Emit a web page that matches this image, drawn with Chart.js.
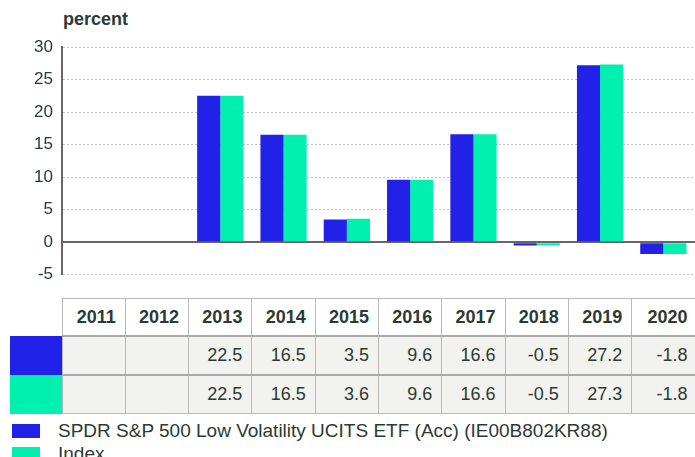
<!DOCTYPE html>
<html>
<head>
<meta charset="utf-8">
<script src="https://cdn.jsdelivr.net/npm/chart.js@4/dist/chart.umd.min.js"></script>
<style>
  html, body { margin: 0; padding: 0; background: #fff; }
  body { font-family: "Liberation Sans", Arial, sans-serif; color: #2b3a33; }
  #wrap { position: relative; width: 695px; height: 457px; overflow: hidden; }
  #unit { position: absolute; left: 63px; top: 9px; font-size: 18px; font-weight: bold; }
  #c { position: absolute; left: 0; top: 0; }
  #tbl { position: absolute; left: 10px; top: 298px; border-collapse: collapse; table-layout: fixed; font-size: 18px; }
  #tbl td, #tbl th { border: 1px solid #b8b8b8; padding: 0 9px 0 0; text-align: right; white-space: nowrap; overflow: hidden; }
  #tbl th { background: #fff; font-weight: bold; height: 36px; }
  #tbl td { background: #f2f2ee; height: 37px; border-top: 2px solid #aaa; }
  #tbl th.blank { border: none; background: transparent; }
  #tbl td.sw { border: none; padding: 0; }
  #legend { position: absolute; left: 12px; top: 419px; font-size: 19px; line-height: 23px; }
  #legend .it { display: flex; align-items: center; white-space: nowrap; }
  #legend .box { width: 28px; height: 14px; margin-right: 18px; flex: none; }
</style>
</head>
<body>
<div id="wrap">
  <div id="unit">percent</div>
  <canvas id="c" width="695" height="294"></canvas>
  <table id="tbl"></table>
  <div id="legend"></div>
</div>
<script>
(function () {
  'use strict';

  // 연도별 수익률 (%)
  const years = ['2011', '2012', '2013', '2014', '2015', '2016', '2017', '2018', '2019', '2020'];
  const etfValues = [null, null, 22.5, 16.5, 3.5, 9.6, 16.6, -0.5, 27.2, -1.8];
  const indexValues = [null, null, 22.5, 16.5, 3.6, 9.6, 16.6, -0.5, 27.3, -1.8];
  const seriesNames = ['SPDR S&P 500 Low Volatility UCITS ETF (Acc) (IE00B802KR88)', 'Index'];
  const seriesColors = ['#2121e8', '#00f0b0'];
  const yTicks = [-5, 0, 5, 10, 15, 20, 25, 30];

  const textColor = '#2b3a33';
  const $ = id => document.getElementById(id);

  const chart = new Chart($('c'), {
    type: 'bar',
    data: {
      labels: years,
      datasets: [
        { label: seriesNames[0], data: etfValues, backgroundColor: seriesColors[0] },
        { label: seriesNames[1], data: indexValues, backgroundColor: seriesColors[1] },
      ],
    },
    options: {
      responsive: false, animation: false, devicePixelRatio: 1,
      layout: { padding: { top: 47, bottom: 17, left: 0, right: 0 } },
      datasets: { bar: { categoryPercentage: 0.73, barPercentage: 1, borderWidth: 0 } },
      plugins: { legend: { display: false }, tooltip: { enabled: false } },
      scales: {
        x: { display: false },
        y: {
          min: yTicks[0], max: yTicks[yTicks.length - 1],
          afterFit: s => { s.width = 62; },
          afterBuildTicks: s => { s.ticks = yTicks.map(v => ({ value: v })); },
          ticks: { color: textColor, font: { size: 17, family: '"Liberation Sans", Arial, sans-serif' }, padding: 9 },
          grid: {
            drawTicks: false,
            color: c => c.tick && c.tick.value === 0 ? '#666' : '#c4c4c4',
            lineWidth: c => c.tick && c.tick.value === 0 ? 2 : 1,
          },
          // 0선은 실선, 나머지는 점선
          border: { display: true, color: '#666', width: 2, dash: c => c.tick && c.tick.value === 0 ? [] : [2, 2] },
        },
      },
    },
  });

  // 차트 카테고리 폭에 맞춘 표 (마지막 열은 오른쪽 끝 밖으로 살짝 넘김)
  const area = chart.chartArea;
  const colW = (area.right - area.left) / years.length;
  const firstW = area.left - 10;
  const widths = years.map((_, i) => i === years.length - 1 ? colW + 2 : colW);
  let html = '<colgroup><col style="width:' + firstW + 'px">' + widths.map(w => '<col style="width:' + w + 'px">').join('') + '</colgroup>';
  html += '<tr><th class="blank"></th>' + years.map(y => '<th>' + y + '</th>').join('') + '</tr>';
  [etfValues, indexValues].forEach((vals, i) => {
    html += '<tr><td class="sw" style="background:' + seriesColors[i] + '"></td>' +
      vals.map(v => '<td>' + (v === null ? '' : v.toFixed(1)) + '</td>').join('') + '</tr>';
  });
  const tbl = $('tbl');
  tbl.innerHTML = html;
  tbl.style.width = (firstW + widths.reduce((a, b) => a + b, 0)) + 'px';

  $('legend').innerHTML = seriesNames.map((n, i) =>
    '<div class="it"><span class="box" style="background:' + seriesColors[i] + '"></span>' + n + '</div>').join('');
})();
</script>
</body>
</html>
